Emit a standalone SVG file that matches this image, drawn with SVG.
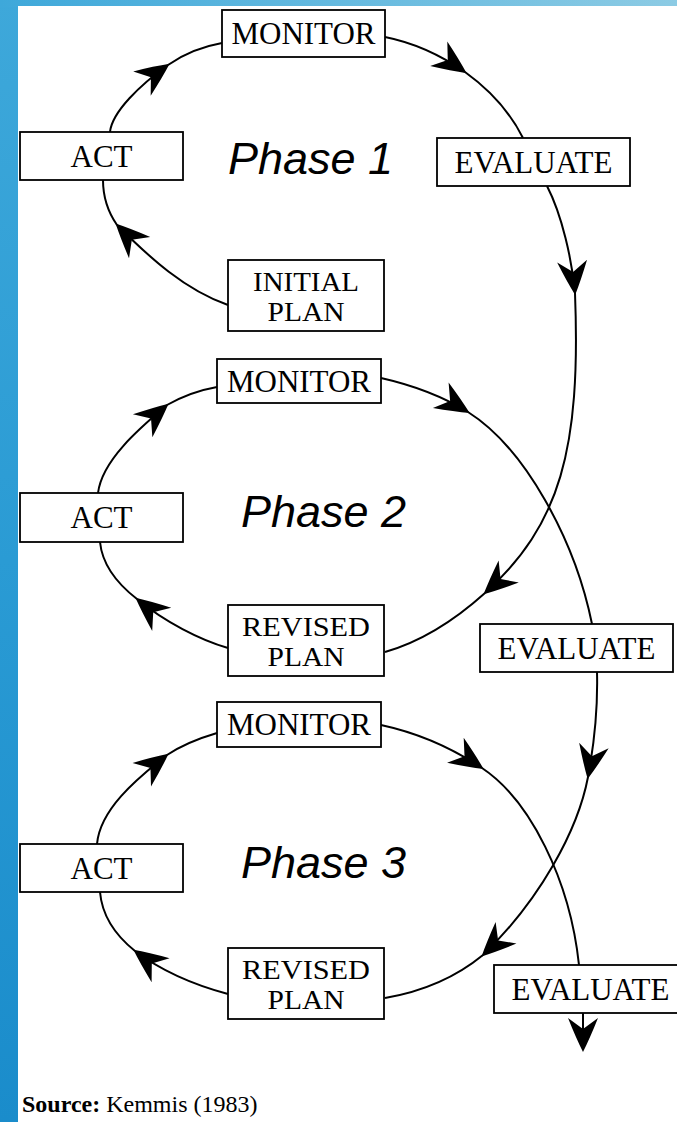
<svg xmlns="http://www.w3.org/2000/svg" width="677" height="1122" viewBox="0 0 677 1122">
<defs>
<linearGradient id="bgL" x1="0" y1="0" x2="0" y2="1">
<stop offset="0" stop-color="#3ea8da"/>
<stop offset="0.5" stop-color="#2a9bd4"/>
<stop offset="1" stop-color="#1a8ccb"/>
</linearGradient>
<linearGradient id="bgT" x1="0" y1="0" x2="1" y2="0">
<stop offset="0" stop-color="#3ea8da"/>
<stop offset="1" stop-color="#8ccbe4"/>
</linearGradient>
<marker id="ah" markerUnits="userSpaceOnUse" markerWidth="40" markerHeight="40" refX="0" refY="0" orient="auto" overflow="visible">
<path d="M2,0 Q-12,-7 -32,-15 L-21,0 L-32,15 Q-12,7 2,0 Z" fill="#000"/>
</marker>
<style>
.box{fill:#fff;stroke:#000;stroke-width:1.8}
.lbl{font-family:"Liberation Serif","Times New Roman",serif;font-size:31px;fill:#000;text-anchor:middle}
.lbl2{font-family:"Liberation Serif","Times New Roman",serif;font-size:27px;fill:#000;text-anchor:middle}
.ph{font-family:"Liberation Sans",Arial,sans-serif;font-size:45px;font-style:italic;fill:#000}
.ln{fill:none;stroke:#000;stroke-width:2}
.arr{marker-end:url(#ah)}
.src{font-family:"Liberation Serif","Times New Roman",serif;font-size:24px;fill:#000}
</style>
</defs>
<rect x="0" y="0" width="677" height="1122" fill="url(#bgL)"/>
<rect x="0" y="0" width="677" height="7" fill="url(#bgT)"/>
<rect x="18" y="6" width="659" height="1116" fill="#fff"/>

<g id="connectors">
<!-- Phase 1 -->
<path class="ln arr" d="M110,132 C112,112 140,85 168,65"/>
<path class="ln" d="M168,65 C185,53 205,46 222,43"/>
<path class="ln arr" d="M228,305 C185,290 150,258 117,225"/>
<path class="ln" d="M117,225 C108,212 103,196 103,180"/>
<path class="ln arr" d="M385,37 C415,43 442,56 465,72"/>
<path class="ln" d="M465,72 C490,90 510,112 523,138"/>
<path class="ln arr" d="M547,186 C562,215 572,260 575,293"/>
<path class="ln arr" d="M575,293 C581,450 560,525 485,593"/>
<path class="ln" d="M485,593 C455,620 420,642 385,652"/>
<!-- Phase 2 -->
<path class="ln arr" d="M98,493 C102,460 140,428 167,405"/>
<path class="ln" d="M167,405 C183,396 200,390 217,387"/>
<path class="ln arr" d="M228,648 C200,640 165,622 137,599"/>
<path class="ln" d="M137,599 C115,582 102,562 100,542"/>
<path class="ln arr" d="M381,378 C412,385 442,396 468,412"/>
<path class="ln" d="M468,412 C525,448 575,540 592,624"/>
<path class="ln arr" d="M597,672 C598,710 594,745 588,777"/>
<path class="ln arr" d="M588,777 C578,830 540,900 483,955"/>
<path class="ln" d="M483,955 C455,978 420,992 385,998"/>
<!-- Phase 3 -->
<path class="ln arr" d="M97,844 C100,810 135,780 167,755"/>
<path class="ln" d="M167,755 C182,745 200,738 217,733"/>
<path class="ln arr" d="M228,994 C198,986 163,972 135,951"/>
<path class="ln" d="M135,951 C115,935 102,915 100,892"/>
<path class="ln arr" d="M381,725 C418,733 452,748 482,768"/>
<path class="ln" d="M482,768 C530,800 570,880 579,965"/>
<path class="ln arr" d="M583,1013 L583,1050"/>
</g>

<g id="monitor1"><rect class="box" x="222" y="10" width="163" height="47"/><text class="lbl" x="303.5" y="44">MONITOR</text></g>
<g id="act1"><rect class="box" x="20" y="132" width="163" height="48"/><text class="lbl" x="101.5" y="167">ACT</text></g>
<g id="evaluate1"><rect class="box" x="437" y="138" width="193" height="48"/><text class="lbl" x="533.5" y="173">EVALUATE</text></g>
<g id="initialplan"><rect class="box" x="228" y="260" width="156" height="71"/><text class="lbl2" x="306" y="291" textLength="106" lengthAdjust="spacingAndGlyphs">INITIAL</text><text class="lbl2" x="306" y="321" textLength="77" lengthAdjust="spacingAndGlyphs">PLAN</text></g>
<g id="phase1"><text class="ph" x="228" y="174">Phase 1</text></g>

<g id="monitor2"><rect class="box" x="217" y="359" width="164" height="44"/><text class="lbl" x="299" y="392">MONITOR</text></g>
<g id="act2"><rect class="box" x="20" y="493" width="163" height="49"/><text class="lbl" x="101.5" y="528">ACT</text></g>
<g id="revisedplan2"><rect class="box" x="228" y="605" width="156" height="71"/><text class="lbl2" x="306" y="636" textLength="128" lengthAdjust="spacingAndGlyphs">REVISED</text><text class="lbl2" x="306" y="666" textLength="77" lengthAdjust="spacingAndGlyphs">PLAN</text></g>
<g id="evaluate2"><rect class="box" x="480" y="624" width="193" height="48"/><text class="lbl" x="576.5" y="659">EVALUATE</text></g>
<g id="phase2"><text class="ph" x="241" y="527">Phase 2</text></g>

<g id="monitor3"><rect class="box" x="217" y="702" width="164" height="45"/><text class="lbl" x="299" y="735">MONITOR</text></g>
<g id="act3"><rect class="box" x="20" y="844" width="163" height="48"/><text class="lbl" x="101.5" y="879">ACT</text></g>
<g id="revisedplan3"><rect class="box" x="228" y="948" width="156" height="71"/><text class="lbl2" x="306" y="979" textLength="128" lengthAdjust="spacingAndGlyphs">REVISED</text><text class="lbl2" x="306" y="1009" textLength="77" lengthAdjust="spacingAndGlyphs">PLAN</text></g>
<g id="evaluate3"><rect class="box" x="494" y="965" width="193" height="48"/><text class="lbl" x="590.5" y="1000">EVALUATE</text></g>
<g id="phase3"><text class="ph" x="241" y="878">Phase 3</text></g>

<g id="source"><text class="src" x="22" y="1112"><tspan font-weight="bold">Source:</tspan> Kemmis (1983)</text></g>
</svg>
